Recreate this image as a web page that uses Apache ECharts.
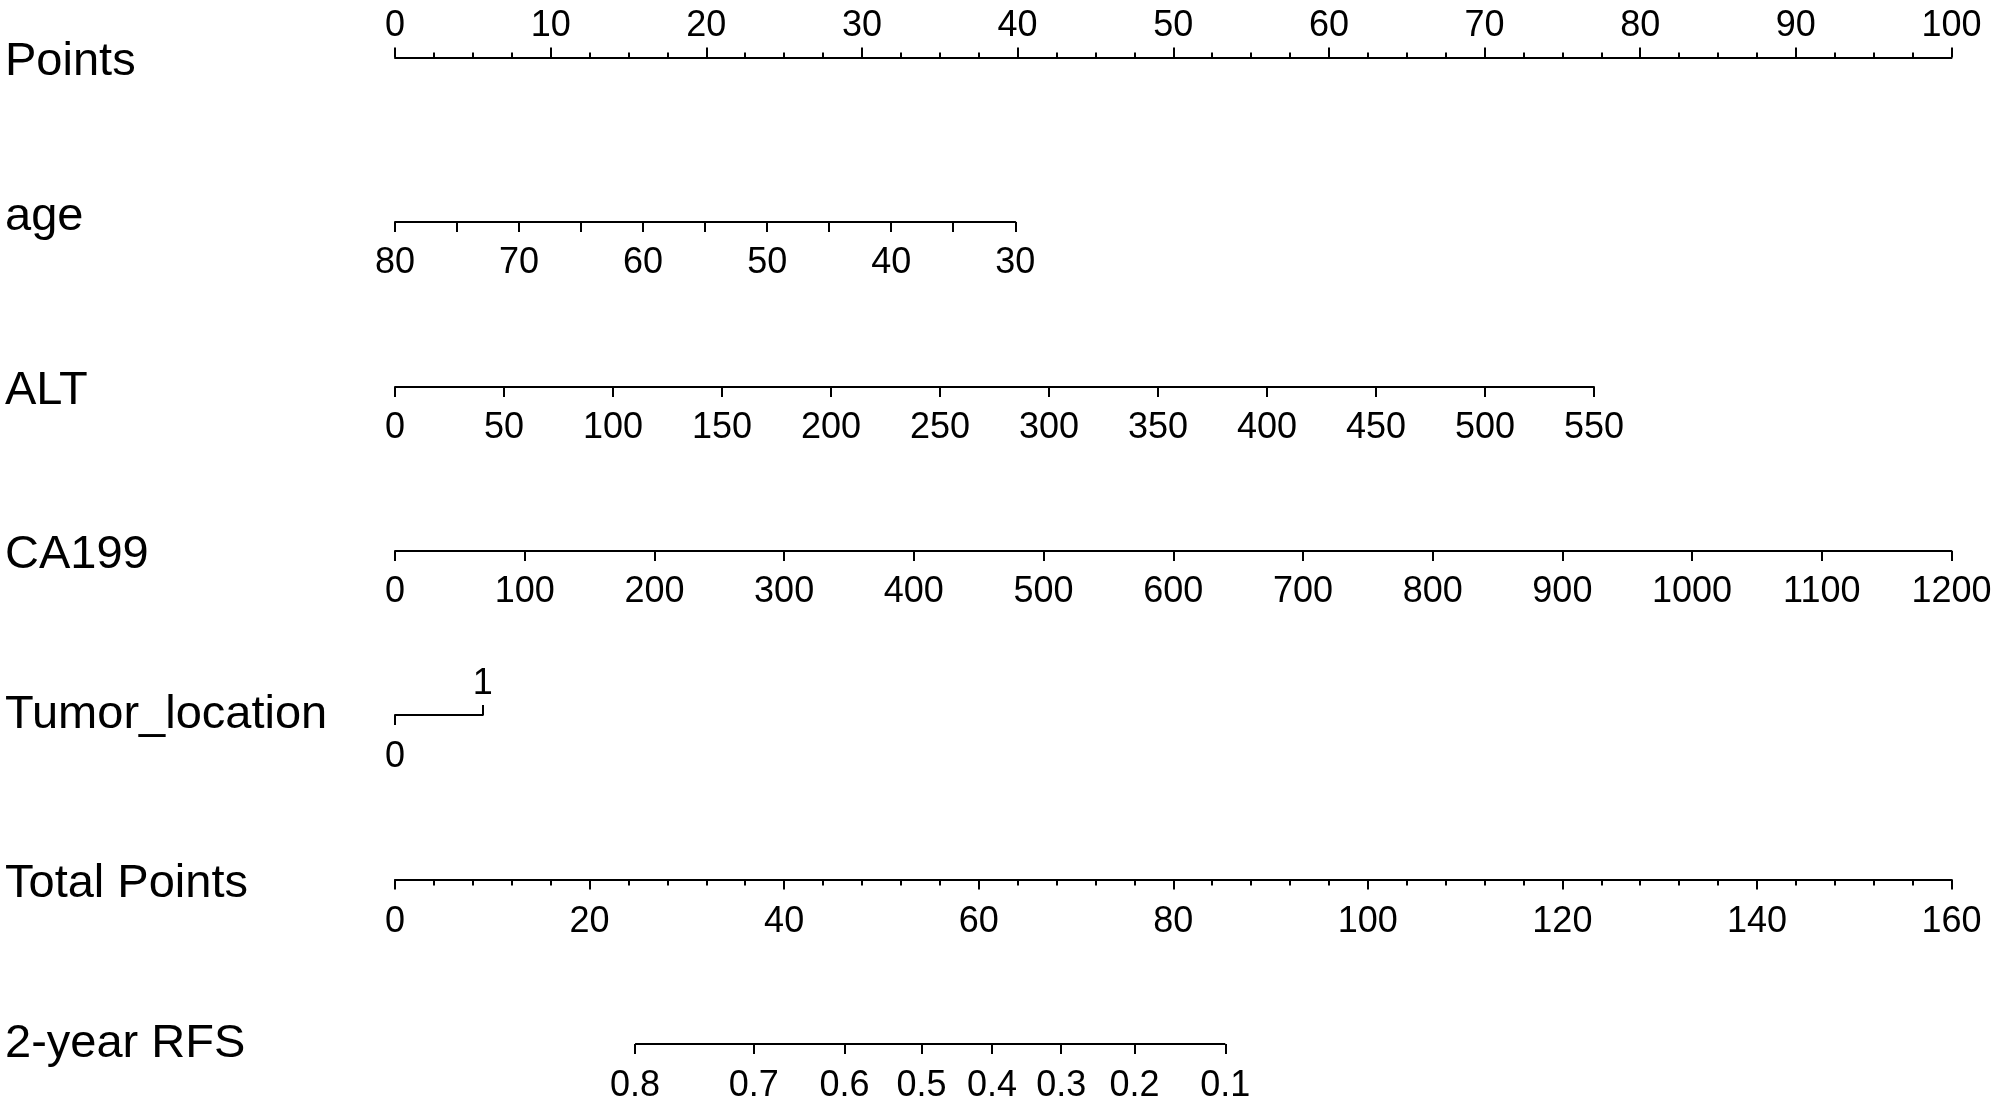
<!DOCTYPE html>
<html>
<head>
<meta charset="utf-8">
<title>Nomogram 2-year RFS</title>
<script src="https://cdn.jsdelivr.net/npm/echarts@6/dist/echarts.min.js"></script>
<style>
  html, body { margin: 0; padding: 0; background: #fff; }
  #chart { width: 2000px; height: 1111px; }
</style>
</head>
<body>
<div id="chart"></div>
<script>
// row titles
const rowLabels = ['Points', 'age', 'ALT', 'CA199', 'Tumor_location', 'Total Points', '2-year RFS'];

// each variable: value range and the points it scores at both ends
const pointsRange = [0, 100];
const ageRange = [80, 30];
const agePoints = [0, 39.85];
const altRange = [0, 550];
const altPoints = [0, 77.03];
const ca199Range = [0, 1200];
const ca199Points = [0, 100];
const tumorLevels = [0, 1];
const tumorPoints = [0, 5.64];
const totalRange = [0, 160];

// 2-year RFS probabilities and where they sit on the total points scale
const rfsProb = [0.8, 0.7, 0.6, 0.5, 0.4, 0.3, 0.2, 0.1];
const rfsTotal = [24.68, 36.88, 46.2, 54.12, 61.36, 68.48, 76.02, 85.35];

// layout
const plotLeft = 395;
const plotWidth = 1556.5;
const lineY = [57.5, 222, 387, 551, 715, 879.5, 1044];
const labelY = [62, 217, 391, 555.5, 715, 884, 1044];

const BLACK = '#000';
const FONT = "'Liberation Sans', Arial, Helvetica, sans-serif";

// grid that spans the points a variable covers
const span = (p, y) => ({
  left: plotLeft + (p[0] - pointsRange[0]) / (pointsRange[1] - pointsRange[0]) * plotWidth,
  width: (p[1] - p[0]) / (pointsRange[1] - pointsRange[0]) * plotWidth,
  top: y,
  height: 0,
  outerBoundsMode: 'none'
});

const grids = [
  span(pointsRange, lineY[0]),
  span(agePoints, lineY[1]),
  span(altPoints, lineY[2]),
  span(ca199Points, lineY[3]),
  span(tumorPoints, lineY[4]),
  span(pointsRange, lineY[5]),
  span(pointsRange, lineY[6])
];

const plain = v => String(v);

const axis = (gridIndex, o) => ({
  type: 'value',
  gridIndex: gridIndex,
  position: o.position || 'bottom',
  min: o.min,
  max: o.max,
  interval: o.interval,
  inverse: !!o.inverse,
  axisLine: { show: o.line !== false, onZero: false, lineStyle: { color: BLACK, width: 2 } },
  axisTick: {
    show: true,
    inside: !!o.inside,
    length: 10,
    customValues: o.ticks,
    lineStyle: { color: BLACK, width: 2 }
  },
  minorTick: {
    show: !!o.minor,
    splitNumber: o.minor || 5,
    length: o.minorLength || 5,
    lineStyle: { color: BLACK, width: 2 }
  },
  axisLabel: {
    show: true,
    inside: !!o.inside,
    color: BLACK,
    fontFamily: FONT,
    fontSize: 36,
    margin: o.margin || 23.5,
    customValues: o.labels,
    formatter: o.formatter || plain
  },
  splitLine: { show: false },
  minorSplitLine: { show: false }
});

const nearestRfs = v => {
  let best = 0;
  rfsTotal.forEach((t, i) => { if (Math.abs(t - v) < Math.abs(rfsTotal[best] - v)) best = i; });
  return rfsProb[best].toFixed(1);
};

const xAxes = [
  axis(0, { position: 'top', min: pointsRange[0], max: pointsRange[1], interval: 10, minor: 4, minorLength: 5, margin: 13.5 }),
  axis(1, { min: ageRange[1], max: ageRange[0], interval: 5, inverse: true,
            formatter: v => (v % 10 === 0 ? String(v) : '') }),
  axis(2, { min: altRange[0], max: altRange[1], interval: 50 }),
  axis(3, { min: ca199Range[0], max: ca199Range[1], interval: 100 }),
  axis(4, { min: tumorLevels[0], max: tumorLevels[1], ticks: [tumorLevels[0]], labels: [tumorLevels[0]], margin: 24.5 }),
  axis(4, { min: tumorLevels[0], max: tumorLevels[1], ticks: [tumorLevels[1]], labels: [tumorLevels[1]],
            inside: true, line: false, margin: 12.5 }),
  axis(5, { min: totalRange[0], max: totalRange[1], interval: 20, minor: 5, minorLength: 6, margin: 24.5 }),
  axis(6, { min: totalRange[0], max: totalRange[1], ticks: rfsTotal, labels: rfsTotal, line: false,
            margin: 24, formatter: nearestRfs })
];

const yAxes = grids.map((g, i) => ({ type: 'value', gridIndex: i, show: false, min: 0, max: 1 }));

const titles = rowLabels.map((t, i) => ({
  type: 'text',
  left: 5,
  y: labelY[i],
  silent: true,
  style: {
    text: t,
    fill: BLACK,
    font: '47px ' + FONT,
    verticalAlign: 'middle'
  }
}));

const chart = echarts.init(document.getElementById('chart'), null, { renderer: 'canvas' });
chart.setOption({
  animation: false,
  backgroundColor: '#fff',
  textStyle: { fontFamily: FONT, color: BLACK },
  grid: grids,
  xAxis: xAxes,
  yAxis: yAxes,
  graphic: titles,
  series: [{
    type: 'line',
    xAxisIndex: 7,
    yAxisIndex: 6,
    silent: true,
    showSymbol: false,
    symbol: 'none',
    lineStyle: { color: BLACK, width: 2, cap: 'butt' },
    data: [[rfsTotal[0], 0], [rfsTotal[rfsTotal.length - 1], 0]]
  }]
});
</script>
</body>
</html>
